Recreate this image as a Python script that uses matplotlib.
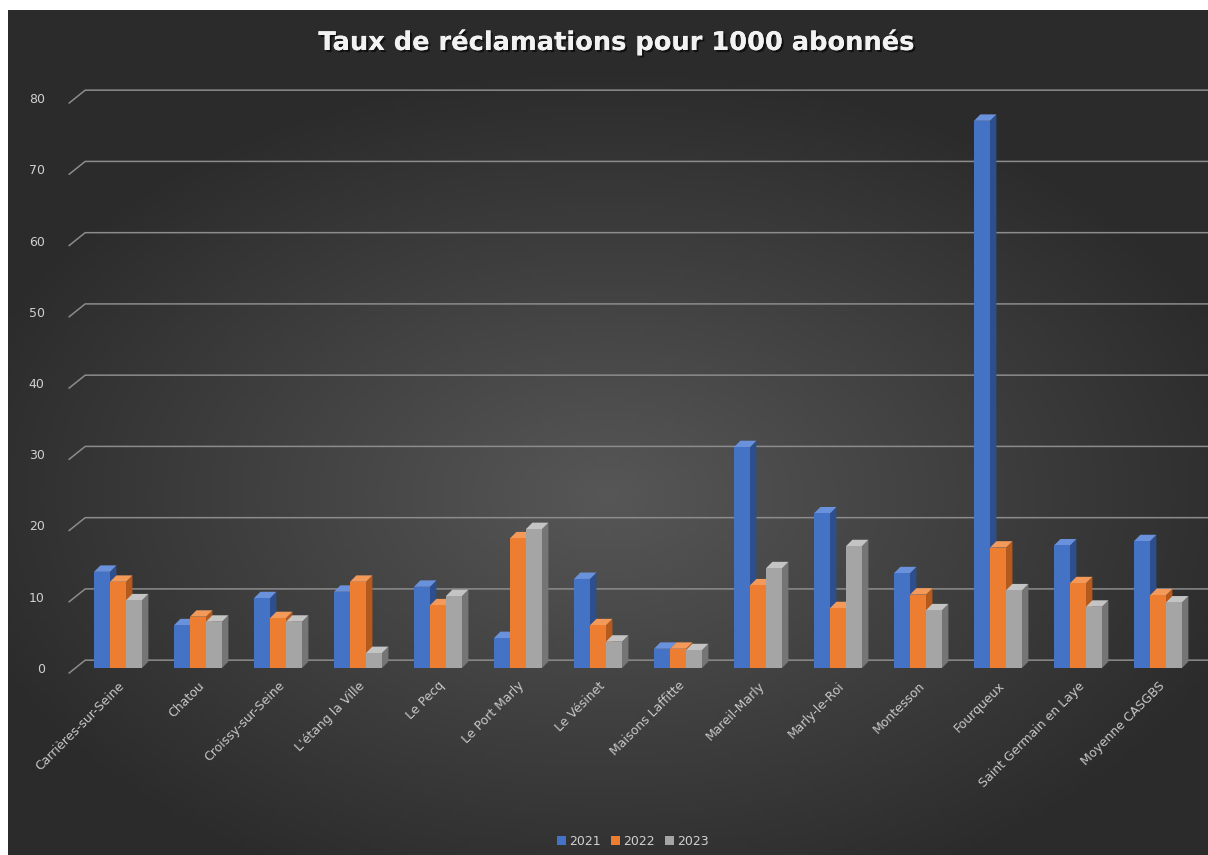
import numpy as np
import matplotlib
matplotlib.use("Agg")
import matplotlib.pyplot as plt
from matplotlib.patches import Polygon, Patch
import matplotlib.patheffects as pe

# --- données ---
communes = ["Carrières-sur-Seine", "Chatou", "Croissy-sur-Seine", "L'étang la Ville", "Le Pecq",
            "Le Port Marly", "Le Vésinet", "Maisons Laffitte", "Mareil-Marly", "Marly-le-Roi",
            "Montesson", "Fourqueux", "Saint Germain en Laye", "Moyenne CASGBS"]
v2021 = [13.5, 6.0, 9.8, 10.7, 11.4, 4.2, 12.5, 2.7, 31.0, 21.7, 13.3, 76.8, 17.2, 17.8]
v2022 = [12.1, 7.2, 7.0, 12.1, 8.8, 18.2, 6.0, 2.7, 11.6, 8.4, 10.3, 16.9, 11.9, 10.2]
v2023 = [9.5, 6.5, 6.5, 2.1, 10.1, 19.5, 3.7, 2.5, 14.0, 17.1, 8.1, 10.9, 8.6, 9.2]
annees = ["2021", "2022", "2023"]
yticks = list(range(0, 81, 10))

# front / côté / dessus
couleurs = [("#4472c4", "#2d4f8e", "#6a92dc"),
            ("#ed7d31", "#b55a1d", "#f39a5a"),
            ("#a5a5a5", "#757575", "#c4c4c4")]

W, H = 1208, 855
fig = plt.figure(figsize=(W / 100, H / 100), dpi=100)
fig.patch.set_facecolor("white")

# fond dégradé (zone du graphique)
bg = fig.add_axes([8 / W, 0, 1 - 8 / W, 1 - 10 / H])
gx, gy = np.meshgrid(np.linspace(-1, 1, 300), np.linspace(-1, 1, 200))
r = np.sqrt((gx * 0.95) ** 2 + ((gy - 0.15) * 1.05) ** 2)
shade = np.clip(0.34 - 0.16 * r, 0.17, 0.34)
bg.imshow(np.dstack([shade] * 3), aspect="auto", extent=[0, 1, 0, 1])
bg.set_axis_off()

ax = fig.add_axes([78 / W, 187 / H, 1120 / W, (7.125 * 82.5) / H])
ax.set_facecolor("none")
ax.set_xlim(-0.5, 13.5)
ax.set_ylim(0, 82.5)
for s in ax.spines.values():
    s.set_visible(False)

# grille (mur du fond, perspective)
gdx, gdy = 0.2, 1.8
for v in yticks:
    ax.plot([-0.61, -0.61 + gdx, 13.7], [v - 0.7, v - 0.7 + gdy, v - 0.7 + gdy],
            color="#8c8c8c", lw=1.1, clip_on=False, zorder=1)

x = np.arange(len(communes))
bw = 0.2
ddx, ddy = 0.08, 0.9
series = [v2021, v2022, v2023]
for k, (vals, (cf, cs, ct)) in enumerate(zip(series, couleurs)):
    xs = x + (k - 1) * bw
    for xi, val in zip(xs, vals):
        l, rr = xi - bw / 2, xi + bw / 2
        ax.add_patch(Polygon([(rr, 0), (rr + ddx, ddy), (rr + ddx, val + ddy), (rr, val)],
                             closed=True, fc=cs, ec="none", zorder=3 + k))
        ax.add_patch(Polygon([(l, val), (l + ddx, val + ddy), (rr + ddx, val + ddy), (rr, val)],
                             closed=True, fc=ct, ec="none", zorder=3 + k))
    ax.bar(xs, vals, width=bw, color=cf, edgecolor="none", zorder=3 + k)

ax.set_yticks(yticks)
ax.set_yticklabels([str(t) for t in yticks], color="#d0d0d0", fontsize=9)
ax.set_xticks(x)
ax.set_xticklabels(communes, rotation=45, ha="right", rotation_mode="anchor",
                   color="#c8c8c8", fontsize=9)
ax.tick_params(axis="y", length=0, pad=24)
ax.tick_params(axis="x", length=0, pad=8)

fig.text(617 / W, 1 - 42 / H, "Taux de réclamations pour 1000 abonnés", ha="center", va="center",
         fontsize=18.5, fontweight="bold", color="#f2f2f2",
         path_effects=[pe.withSimplePatchShadow(offset=(1.5, -1.5), shadow_rgbFace="black", alpha=0.6),
                       pe.Normal()])

handles = [Patch(fc=c[0], ec="none", label=a) for a, c in zip(annees, couleurs)]
leg = fig.legend(handles=handles, loc="center", bbox_to_anchor=(633 / W, 1 - 841 / H), ncol=3,
                 frameon=False, fontsize=9, handlelength=0.7, handleheight=0.7,
                 handletextpad=0.3, columnspacing=0.8)
for t in leg.get_texts():
    t.set_color("#d0d0d0")

fig.savefig("out.png", dpi=100, facecolor=fig.get_facecolor())
